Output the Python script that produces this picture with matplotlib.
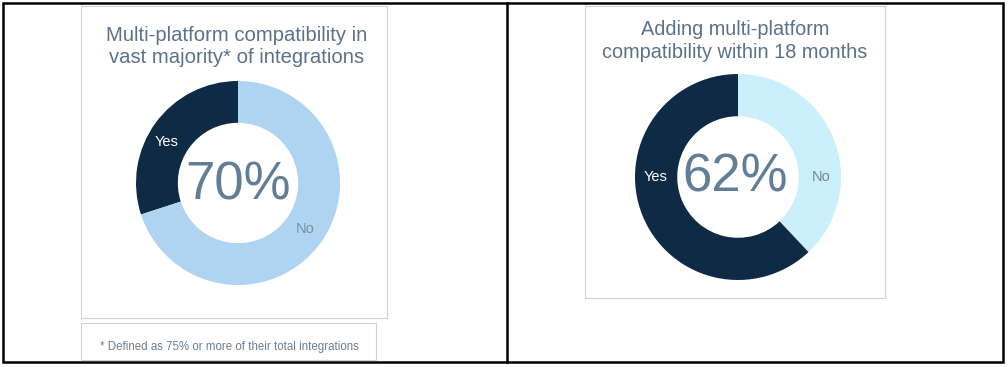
import matplotlib
matplotlib.use('Agg')
import matplotlib.pyplot as plt
from matplotlib.patches import Rectangle
from matplotlib.lines import Line2D

plt.rcParams['font.family'] = ['Liberation Sans', 'DejaVu Sans']

W, H = 1008, 367

# data
left_title = "Multi-platform compatibility in\nvast majority* of integrations"
left_labels = ['Yes', 'No']
left_values = [30, 70]
left_center = '70%'

right_title = "Adding multi-platform\ncompatibility within 18 months"
right_labels = ['No', 'Yes']
right_values = [38, 62]
right_center = '62%'

footnote = "* Defined as 75% or more of their total integrations"

dark = '#0f2a45'
light_left = '#afd4f2'
light_right = '#cbeffb'
title_col = '#5b7289'
big_col = '#627d96'


def fx(x):
    return x / W


def fy(y):
    return 1 - y / H


def box(fig, x0, y0, x1, y1, ec, lw):
    fig.patches.append(Rectangle((fx(x0), fy(y1)), fx(x1 - x0), (y1 - y0) / H,
                                 transform=fig.transFigure, fill=False,
                                 ec=ec, lw=lw))


def donut(fig, cx, cy, r, values, colors, ccw):
    ax = fig.add_axes([fx(cx - r), fy(cy + r), 2 * r / W, 2 * r / H])
    ax.pie(values, colors=colors, startangle=90, counterclock=ccw,
           radius=1, wedgeprops=dict(width=0.41, linewidth=0))
    ax.set_xlim(-1, 1)
    ax.set_ylim(-1, 1)
    ax.set_aspect('equal')
    ax.axis('off')
    return ax


fig = plt.figure(figsize=(W / 100, H / 100), dpi=100)
fig.patch.set_facecolor('white')

# outer frame and divider
box(fig, 3, 3, 1003, 362, 'black', 1.8)
fig.lines.append(Line2D([fx(507), fx(507)], [fy(3), fy(362)],
                        transform=fig.transFigure, color='black', lw=1.8))

# panel boxes
box(fig, 81, 6, 387, 318, '#d0d0d0', 0.8)
box(fig, 81, 323, 376, 360, '#d0d0d0', 0.8)
box(fig, 585, 6, 885, 298, '#d0d0d0', 0.8)

# left chart
fig.text(fx(237), fy(46.5), left_title, ha='center', va='center',
         fontsize=14.6, color=title_col, linespacing=1.2)
ax1 = donut(fig, 238, 183, 102, left_values, [dark, light_left], True)
ax1.text(0, -0.02, left_center, ha='center', va='center', fontsize=38,
         color=big_col)
ax1.text(-0.70, 0.40, left_labels[0], ha='center', va='center',
         fontsize=10.5, color='white')
ax1.text(0.66, -0.45, left_labels[1], ha='center', va='center',
         fontsize=10.5, color='#7890a8')
fig.text(fx(229), fy(347), footnote, ha='center', va='center',
         fontsize=8.3, color='#6d7f90')

# right chart
fig.text(fx(735), fy(41), right_title, ha='center', va='center',
         fontsize=14.3, color=title_col, linespacing=1.25)
ax2 = donut(fig, 738, 177, 103, right_values, [light_right, dark], False)
ax2.text(-0.03, 0.0, right_center, ha='center', va='center', fontsize=38,
         color=big_col)
ax2.text(-0.80, 0.0, right_labels[1], ha='center', va='center',
         fontsize=10.5, color='white')
ax2.text(0.81, 0.0, right_labels[0], ha='center', va='center',
         fontsize=10.5, color='#6f889f')

fig.savefig('out.png', dpi=100)
